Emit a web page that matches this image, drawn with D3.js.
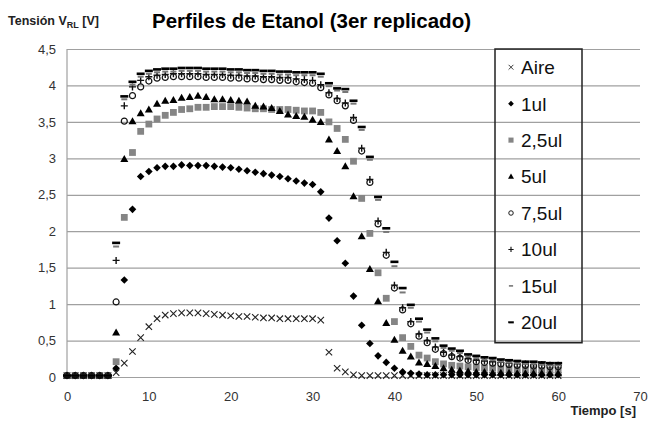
<!DOCTYPE html>
<meta charset="utf-8">
<head>
<title>Perfiles de Etanol</title>
<script src="https://d3js.org/d3.v7.min.js"></script>
<style>
  body { margin: 0; background: #fff; }
  svg { font-family: "Liberation Sans", Arial, sans-serif; }
</style>
</head>
<body>
<div id="chart"></div>

<script>
  // tiempo de muestreo (s)
  var tiempo = [0,1,2,3,4,5,6,7,8,9,10,11,12,13,14,15,16,17,18,19,20,21,22,23,24,25,26,27,28,29,
    30,31,32,33,34,35,36,37,38,39,40,41,42,43,44,45,46,47,48,49,50,51,52,53,54,55,56,57,58,59,60];

  // tension medida (V) por serie
  var aire = [0.02,0.02,0.02,0.02,0.02,0.02,0.06,0.19,0.35,0.54,
    0.69,0.80,0.85,0.87,0.88,0.88,0.88,0.87,0.86,0.85,
    0.84,0.83,0.83,0.82,0.81,0.81,0.80,0.80,0.80,0.80,
    0.80,0.78,0.34,0.12,0.07,0.03,0.02,0.02,0.02,0.02,
    0.02,0.02,0.02,0.02,0.02,0.02,0.02,0.02,0.02,0.02,
    0.02,0.02,0.02,0.02,0.02,0.02,0.02,0.02,0.02,0.02,0.02];
  var ul1 = [0.02,0.02,0.02,0.02,0.02,0.02,0.12,1.33,2.30,2.75,
    2.82,2.87,2.89,2.89,2.91,2.90,2.90,2.90,2.89,2.88,
    2.87,2.85,2.83,2.81,2.79,2.77,2.75,2.72,2.69,2.66,
    2.64,2.54,2.18,1.87,1.56,1.11,0.71,0.46,0.29,0.20,
    0.12,0.07,0.05,0.04,0.03,0.03,0.03,0.03,0.03,0.03,
    0.03,0.03,0.03,0.03,0.03,0.03,0.03,0.03,0.03,0.03,0.03];
  var ul2_5 = [0.02,0.02,0.02,0.02,0.02,0.02,0.21,2.19,3.08,3.37,
    3.47,3.54,3.59,3.63,3.67,3.68,3.70,3.70,3.71,3.71,
    3.71,3.70,3.69,3.68,3.68,3.67,3.67,3.67,3.66,3.65,
    3.65,3.63,3.50,3.41,3.26,2.96,2.45,1.97,1.43,1.08,
    0.76,0.54,0.42,0.30,0.26,0.21,0.18,0.16,0.15,0.14,
    0.13,0.12,0.12,0.11,0.11,0.10,0.10,0.10,0.09,0.09,0.09];
  var ul5 = [0.02,0.02,0.02,0.02,0.02,0.02,0.61,2.99,3.51,3.62,
    3.67,3.75,3.79,3.80,3.83,3.84,3.86,3.84,3.81,3.81,
    3.80,3.79,3.78,3.72,3.71,3.69,3.65,3.60,3.58,3.57,
    3.53,3.50,3.26,3.10,2.89,2.48,1.93,1.48,1.04,0.74,
    0.51,0.36,0.28,0.20,0.18,0.15,0.12,0.10,0.09,0.08,
    0.07,0.07,0.06,0.06,0.06,0.05,0.05,0.05,0.05,0.05,0.05];
  var ul7_5 = [0.02,0.02,0.02,0.02,0.02,0.02,1.03,3.51,3.86,3.98,
    4.06,4.10,4.11,4.12,4.12,4.12,4.12,4.11,4.11,4.11,
    4.10,4.10,4.09,4.09,4.08,4.08,4.07,4.07,4.05,4.04,
    4.03,3.97,3.87,3.79,3.72,3.52,3.10,2.67,2.10,1.67,
    1.22,0.92,0.73,0.56,0.47,0.38,0.32,0.28,0.26,0.23,
    0.21,0.20,0.19,0.18,0.17,0.16,0.16,0.15,0.15,0.14,0.14];
  var ul10 = [0.02,0.02,0.02,0.02,0.02,0.02,1.60,3.72,3.98,4.07,
    4.12,4.14,4.15,4.16,4.16,4.16,4.16,4.15,4.15,4.15,
    4.14,4.14,4.13,4.13,4.12,4.12,4.11,4.11,4.09,4.08,
    4.07,4.01,3.90,3.82,3.76,3.56,3.14,2.71,2.14,1.71,
    1.26,0.95,0.76,0.59,0.50,0.41,0.34,0.30,0.28,0.25,
    0.23,0.22,0.21,0.20,0.19,0.18,0.18,0.17,0.17,0.16,0.16];
  var ul15 = [0.02,0.02,0.02,0.02,0.02,0.02,1.79,3.81,4.01,4.12,
    4.16,4.18,4.19,4.19,4.20,4.20,4.20,4.19,4.19,4.19,
    4.18,4.18,4.17,4.17,4.16,4.16,4.15,4.15,4.14,4.14,
    4.14,4.12,3.99,3.93,3.91,3.75,3.39,2.98,2.43,1.99,
    1.52,1.16,0.95,0.76,0.61,0.49,0.40,0.36,0.33,0.28,
    0.26,0.24,0.23,0.21,0.20,0.19,0.18,0.18,0.17,0.16,0.16];
  var ul20 = [0.02,0.02,0.02,0.02,0.02,0.02,1.84,3.85,4.05,4.16,
    4.20,4.22,4.23,4.23,4.24,4.24,4.24,4.23,4.23,4.23,
    4.22,4.22,4.21,4.21,4.20,4.20,4.19,4.19,4.18,4.18,
    4.18,4.16,4.03,3.96,3.95,3.79,3.43,3.02,2.47,2.04,
    1.58,1.22,0.99,0.80,0.65,0.53,0.43,0.39,0.36,0.31,
    0.29,0.27,0.26,0.24,0.23,0.22,0.21,0.21,0.20,0.19,0.19];

  var nombres = ["Aire", "1ul", "2,5ul", "5ul", "7,5ul", "10ul", "15ul", "20ul"];
  var xTicks = [0, 10, 20, 30, 40, 50, 60, 70];
  var yTicks = [0, 0.5, 1, 1.5, 2, 2.5, 3, 3.5, 4, 4.5];

  // estilo de marcador por serie
  var series = [
    {name: nombres[0], values: aire,  kind: "x",        s: 3.2, fill: "none", stroke: "#222", sw: 1.1},
    {name: nombres[1], values: ul1,   kind: "diamond",  s: 3.8, fill: "#000", stroke: "none", sw: 0},
    {name: nombres[2], values: ul2_5, kind: "square",   s: 3.4, fill: "#858585", stroke: "none", sw: 0},
    {name: nombres[3], values: ul5,   kind: "triangle", s: 4.0, fill: "#000", stroke: "none", sw: 0},
    {name: nombres[4], values: ul7_5, kind: "circle",   s: 3.0, fill: "none", stroke: "#111", sw: 1.2},
    {name: nombres[5], values: ul10,  kind: "plus",     s: 3.5, fill: "none", stroke: "#111", sw: 1.4},
    {name: nombres[6], values: ul15,  kind: "dash",     s: 3.0, fill: "none", stroke: "#777", sw: 2.0},
    {name: nombres[7], values: ul20,  kind: "dash",     s: 4.0, fill: "none", stroke: "#000", sw: 2.6}
  ];

  function markerPath(kind, s) {
    switch (kind) {
      case "x": return "M" + (-s) + "," + (-s) + "L" + s + "," + s + "M" + (-s) + "," + s + "L" + s + "," + (-s);
      case "diamond": return "M0," + (-s) + "L" + s + ",0L0," + s + "L" + (-s) + ",0Z";
      case "square": return "M" + (-s) + "," + (-s) + "H" + s + "V" + s + "H" + (-s) + "Z";
      case "triangle": return "M0," + (-s) + "L" + s + "," + (s * 0.75) + "L" + (-s) + "," + (s * 0.75) + "Z";
      case "circle": return "M" + s + ",0A" + s + "," + s + " 0 1,1 " + (-s) + ",0A" + s + "," + s + " 0 1,1 " + s + ",0Z";
      case "plus": return "M" + (-s) + ",0H" + s + "M0," + (-s) + "V" + s;
      case "dash": return "M" + (-s) + ",0H" + s;
    }
  }

  var width = 648, height = 424;
  var svg = d3.select("#chart").append("svg")
    .attr("width", width)
    .attr("height", height);

  var x = d3.scaleLinear().domain([0, 70]).range([67, 640]);
  var y = d3.scaleLinear().domain([0, 4.5]).range([377, 49]);
  var coma = function(d) { return String(d).replace(".", ","); };

  // eje Y con lineas de cuadricula
  var gy = svg.append("g")
    .attr("transform", "translate(" + x(0) + ",0)")
    .call(d3.axisLeft(y).tickValues(yTicks).tickFormat(coma)
      .tickSizeInner(-(x(70) - x(0))).tickSizeOuter(0).tickPadding(11));
  gy.select(".domain").remove();
  gy.selectAll(".tick line").attr("stroke", "#a0a0a0").attr("stroke-width", 1.2);
  gy.selectAll(".tick text").style("font-size", "13px").attr("fill", "#333");

  // eje X
  var gx = svg.append("g")
    .attr("transform", "translate(0," + y(0) + ")")
    .call(d3.axisBottom(x).tickValues(xTicks).tickSize(0).tickPadding(15));
  gx.select(".domain").remove();
  gx.selectAll(".tick text").style("font-size", "13px").attr("fill", "#333");

  svg.append("line")
    .attr("x1", x(0)).attr("x2", x(0))
    .attr("y1", y(4.5)).attr("y2", y(0))
    .attr("stroke", "#a0a0a0").attr("stroke-width", 1.2);

  // puntos
  series.forEach(function(s) {
    svg.append("g").selectAll("path")
      .data(s.values)
      .enter().append("path")
        .attr("transform", function(d, i) { return "translate(" + x(tiempo[i]) + "," + y(d) + ")"; })
        .attr("d", markerPath(s.kind, s.s))
        .attr("fill", s.fill)
        .attr("stroke", s.stroke)
        .attr("stroke-width", s.sw);
  });

  // leyenda
  var leg = svg.append("g");
  leg.append("rect")
    .attr("x", 495).attr("y", y(4.5))
    .attr("width", 87).attr("height", y(0.47) - y(4.5))
    .attr("fill", "none").attr("stroke", "#222").attr("stroke-width", 1.5);
  series.forEach(function(s, i) {
    var cy = y(4.25 - 0.5 * i);
    leg.append("path")
      .attr("transform", "translate(511," + cy + ")")
      .attr("d", markerPath(s.kind, s.kind == "dash" ? s.s * 0.7 : s.s * 0.75))
      .attr("fill", s.fill)
      .attr("stroke", s.stroke)
      .attr("stroke-width", s.sw * 0.8);
    leg.append("text")
      .attr("x", 521).attr("y", cy)
      .attr("dy", "0.36em")
      .style("font-size", "19px")
      .attr("fill", "#111")
      .text(s.name);
  });

  // titulos
  svg.append("text")
    .attr("x", 152).attr("y", 28)
    .style("font-size", "20.5px")
    .style("font-weight", "bold")
    .text("Perfiles de Etanol (3er replicado)");

  var yt = svg.append("text")
    .attr("x", 8).attr("y", 25)
    .style("font-size", "12.5px")
    .style("font-weight", "bold")
    .attr("fill", "#222");
  yt.append("tspan").text("Tensión V");
  yt.append("tspan").attr("dy", 3).style("font-size", "9px").text("RL");
  yt.append("tspan").attr("dy", -3).text(" [V]");

  svg.append("text")
    .attr("x", 636).attr("y", 415)
    .attr("text-anchor", "end")
    .style("font-size", "13px")
    .style("font-weight", "bold")
    .attr("fill", "#222")
    .text("Tiempo [s]");
</script>
</body>
